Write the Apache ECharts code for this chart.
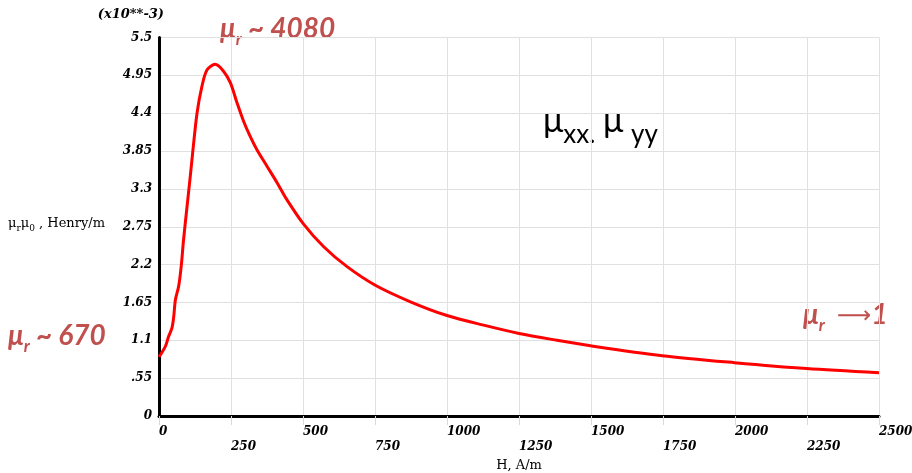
<!DOCTYPE html>
<html>
<head>
<meta charset="utf-8">
<style>
  html, body { margin: 0; padding: 0; background: #fff; }
  #chart { width: 912px; height: 473px; }
</style>
<script src="https://cdn.jsdelivr.net/npm/echarts@6/dist/echarts.min.js"></script>
</head>
<body>
<div id="chart"></div>
<script>
// Permeability curve: field strength H (A/m) against mu_r * mu_0 (x10^-3 Henry/m)
const fieldH = [0, 5, 22, 33, 45, 51, 57, 68, 77, 85, 97, 109, 117, 132, 149, 167, 195, 224, 248, 271, 294, 317, 340, 375, 410, 440, 500, 572, 653, 751, 873, 1000, 1127, 1250, 1382, 1498, 1747, 1998, 2248, 2500];
const permeability = [0.86, 0.89, 1.01, 1.15, 1.28, 1.44, 1.69, 1.88, 2.17, 2.55, 3.03, 3.50, 3.83, 4.40, 4.79, 5.03, 5.11, 5.01, 4.84, 4.55, 4.28, 4.06, 3.87, 3.63, 3.39, 3.17, 2.80, 2.46, 2.17, 1.90, 1.66, 1.46, 1.32, 1.20, 1.10, 1.02, 0.876, 0.775, 0.69, 0.63];

const xTickLabels = ['0', '250', '500', '750', '1000', '1250', '1500', '1750', '2000', '2250', '2500'];
const yTickLabels = ['0', '.55', '1.1', '1.65', '2.2', '2.75', '3.3', '3.85', '4.4', '4.95', '5.5'];

const seriesData = fieldH.map((h, i) => [h, permeability[i]]);

const tickFont = {
  fontFamily: 'DejaVu Serif',
  fontStyle: 'italic',
  fontWeight: 'bold',
  fontSize: 12,
  color: '#000'
};
const noteColor = '#c0504d';
// main glyphs sit at the top of the line box, the subscript at its bottom
const noteRich = {
  m: { fontFamily: 'Lato', fontStyle: 'italic', fontWeight: 'bold', fontSize: 28, fill: noteColor, lineHeight: 33, verticalAlign: 'top' },
  s: { fontFamily: 'Lato', fontStyle: 'italic', fontWeight: 'bold', fontSize: 17, fill: noteColor, lineHeight: 33, verticalAlign: 'bottom' },
  a: { fontFamily: 'DejaVu Sans', fontSize: 24, fill: noteColor, lineHeight: 33, verticalAlign: 'top', padding: [4, 0, 0, 0] }
};

const chart = echarts.init(document.getElementById('chart'), null, { renderer: 'canvas' });
chart.setOption({
  animation: false,
  backgroundColor: '#fff',
  grid: { left: 159, right: 33, top: 37.5, bottom: 57, outerBoundsMode: 'none', containLabel: false },
  xAxis: {
    type: 'value',
    min: 0,
    max: 2500,
    interval: 250,
    name: 'H, A/m',
    nameLocation: 'middle',
    nameGap: 42,
    nameTextStyle: { fontFamily: 'DejaVu Serif', fontSize: 13, color: '#000' },
    axisLine: { show: true, onZero: false, lineStyle: { color: '#000', width: 3 } },
    axisTick: { show: true, length: 9, lineStyle: { color: '#d8d8d8', width: 1 } },
    axisLabel: Object.assign({}, tickFont, {
      align: 'left',
      margin: 8,
      lineHeight: 15,
      formatter: (v, i) => (i % 2 ? '\n' : '') + xTickLabels[i]
    }),
    splitLine: { show: true, showMinLine: true, showMaxLine: true, lineStyle: { color: '#e0e0e0', width: 1 } }
  },
  yAxis: {
    type: 'value',
    min: 0,
    max: 5.5,
    interval: 0.55,
    name: '(x10**-3)',
    nameLocation: 'end',
    nameGap: 16,
    nameTextStyle: Object.assign({}, tickFont, { fontSize: 13, align: 'right', padding: [0, -5, 0, 0] }),
    axisLine: { show: true, onZero: false, lineStyle: { color: '#000', width: 3 } },
    axisTick: { show: false },
    axisLabel: Object.assign({}, tickFont, {
      margin: 7,
      formatter: (v, i) => yTickLabels[i]
    }),
    splitLine: { show: true, showMinLine: true, showMaxLine: true, lineStyle: { color: '#e0e0e0', width: 1 } }
  },
  series: [{
    type: 'line',
    data: seriesData,
    smooth: 0.3,
    showSymbol: false,
    lineStyle: { color: '#ff0000', width: 3 },
    z: 5
  }],
  graphic: [
    {
      type: 'text', left: 8, top: 217,
      style: {
        text: '{a|μ}{b|r}{a|μ}{b|0}{a| , Henry/m}',
        rich: {
          a: { fontFamily: 'DejaVu Serif', fontSize: 13, fill: '#000', lineHeight: 16, verticalAlign: 'top' },
          b: { fontFamily: 'DejaVu Serif', fontSize: 9, fill: '#000', lineHeight: 16, verticalAlign: 'bottom' }
        }
      }
    },
    {
      type: 'text', left: 220, top: 15,
      style: { text: '{m|μ}{s|r}{m| ~ 4080}', rich: noteRich }
    },
    {
      type: 'text', left: 8, top: 322,
      style: { text: '{m|μ}{s|r}{m| ~ 670}', rich: noteRich }
    },
    {
      type: 'text', left: 803, top: 301,
      style: { text: '{m|μ}{s|r}{m|  }{a|⟶}{m|1}', rich: noteRich }
    },
    {
      type: 'text', left: 543, top: 104,
      style: {
        text: '{m|μ}{s|xx.}{sp| }{m|μ}{sp| }{s|yy}',
        rich: {
          m: { fontFamily: 'Lato', fontSize: 34, fill: '#000', lineHeight: 44, verticalAlign: 'top' },
          s: { fontFamily: 'Lato', fontSize: 26, fill: '#000', lineHeight: 44, verticalAlign: 'bottom' },
          sp: { fontFamily: 'Lato', fontSize: 30, fill: '#000', lineHeight: 44, verticalAlign: 'top' }
        }
      }
    }
  ]
});
</script>
</body>
</html>
